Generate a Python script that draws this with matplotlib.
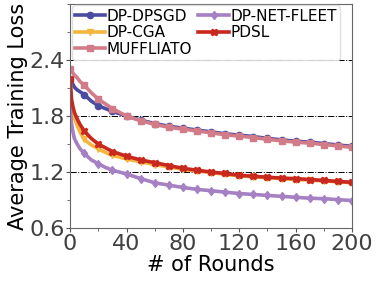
import numpy as np
import matplotlib
matplotlib.use("Agg")
import matplotlib.pyplot as plt
from matplotlib.ticker import MultipleLocator

rounds = [0, 1, 2, 3, 5, 7, 10, 15, 20, 25, 30, 40, 50, 60, 70, 80, 90, 100,
          110, 120, 130, 140, 150, 160, 170, 180, 190, 200]

dp_dpsgd = [2.20, 2.17, 2.14, 2.11, 2.08, 2.06, 2.03, 1.96, 1.91, 1.88, 1.85, 1.80,
            1.755, 1.72, 1.69, 1.67, 1.65, 1.63, 1.61, 1.595, 1.58, 1.56, 1.545,
            1.53, 1.52, 1.505, 1.49, 1.475]
dp_cga = [2.20, 1.92, 1.84, 1.78, 1.70, 1.63, 1.55, 1.49, 1.45, 1.41, 1.38, 1.34,
          1.31, 1.28, 1.255, 1.23, 1.21, 1.195, 1.175, 1.16, 1.15, 1.14, 1.13,
          1.12, 1.115, 1.105, 1.095, 1.085]
muffliato = [2.30, 2.28, 2.26, 2.24, 2.21, 2.17, 2.13, 2.05, 1.98, 1.93, 1.88, 1.80,
             1.75, 1.71, 1.68, 1.66, 1.64, 1.62, 1.60, 1.585, 1.57, 1.55, 1.535,
             1.52, 1.51, 1.495, 1.48, 1.465]
dp_net_fleet = [1.90, 1.72, 1.63, 1.56, 1.50, 1.45, 1.40, 1.33, 1.29, 1.25, 1.22,
                1.18, 1.13, 1.085, 1.06, 1.035, 1.015, 1.0, 0.985, 0.97, 0.96,
                0.95, 0.94, 0.93, 0.92, 0.915, 0.905, 0.895]
pdsl = [2.20, 1.98, 1.90, 1.84, 1.77, 1.71, 1.64, 1.56, 1.50, 1.46, 1.42, 1.37,
        1.33, 1.30, 1.27, 1.24, 1.22, 1.20, 1.185, 1.165, 1.155, 1.145, 1.135,
        1.13, 1.12, 1.11, 1.10, 1.09]

series = [
    ("DP-DPSGD", dp_dpsgd, "#4a4ca2", "o"),
    ("DP-CGA", dp_cga, "#f4b63f", "v"),
    ("MUFFLIATO", muffliato, "#d27c8a", "s"),
    ("DP-NET-FLEET", dp_net_fleet, "#a580c2", "d"),
    ("PDSL", pdsl, "#c9281e", "X"),
]

marks = [i for i, r in enumerate(rounds) if r % 10 == 0]

fig = plt.figure(figsize=(3.79, 2.83), dpi=100)
ax = fig.add_axes([0.185, 0.194, 0.744, 0.792])

for name, vals, col, mk in series:
    ax.plot(rounds, vals, color=col, lw=2.6, marker=mk, ms=4.5,
            markevery=marks, label=name)

ax.set_xlim(0, 200)
ax.set_ylim(0.6, 3.0)
ax.set_xticks([0, 40, 80, 120, 160, 200])
ax.set_yticks([0.6, 1.2, 1.8, 2.4])
ax.xaxis.set_minor_locator(MultipleLocator(20))
ax.yaxis.set_minor_locator(MultipleLocator(0.3))
ax.tick_params(axis="both", which="major", labelsize=16, labelcolor="#404040",
               length=3, color="#555555", pad=1)
ax.tick_params(axis="both", which="minor", length=2, color="#555555")
ax.grid(axis="y", which="major", linestyle="-.", color="black", lw=0.7)
for s in ax.spines.values():
    s.set_color("#666666")

ax.set_xlabel("# of Rounds", fontsize=15, labelpad=1)
ax.set_ylabel("Average Training Loss", fontsize=15, labelpad=1)

ax.legend(ncol=2, loc="upper left", bbox_to_anchor=(0.0, 1.0), fontsize=11,
          borderaxespad=0.1, labelspacing=0.1, handletextpad=0.1,
          columnspacing=0.4, borderpad=0.2, handlelength=2.0,
          framealpha=0.9, edgecolor="#dddddd")

fig.savefig("out.png", dpi=100)
